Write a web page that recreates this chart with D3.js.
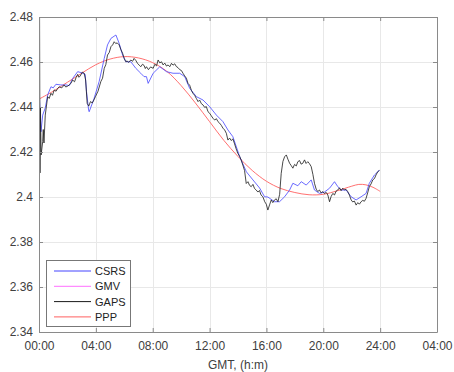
<!DOCTYPE html>
<html>
<head>
<meta charset="utf-8">
<script src="https://cdn.jsdelivr.net/npm/d3@7"></script>
<style>
  body { margin: 0; background: #fff; }
  svg { display: block; font-family: "Liberation Sans", Arial, sans-serif; }
</style>
</head>
<body>
<svg id="chart" width="454" height="372"></svg>
<script>
// [hour, value] pairs
const csrs = [
  [0.03, 2.4446], [0.14, 2.429], [0.26, 2.4364], [0.44, 2.4396], [0.61, 2.4453],
  [0.84, 2.449], [1.0, 2.4485], [1.19, 2.4501], [1.54, 2.4498], [1.9, 2.4498],
  [2.13, 2.4495], [2.37, 2.4527], [2.72, 2.4557], [2.95, 2.4553], [3.25, 2.4545],
  [3.34, 2.447], [3.49, 2.4387], [3.53, 2.4379], [3.88, 2.4439], [4.23, 2.4513],
  [4.59, 2.4616], [4.82, 2.4676], [5.06, 2.4705], [5.41, 2.472], [5.64, 2.4683],
  [5.88, 2.4631], [6.11, 2.4601], [6.46, 2.4601], [6.81, 2.4572], [7.16, 2.455],
  [7.39, 2.4535], [7.56, 2.4535], [7.68, 2.4505], [8.03, 2.455], [8.5, 2.4579],
  [8.97, 2.4557], [9.43, 2.455], [9.9, 2.455], [10.25, 2.4535], [10.6, 2.4483],
  [11.07, 2.4446], [11.54, 2.4431], [12.01, 2.4401], [12.48, 2.4364], [12.94, 2.4335],
  [13.29, 2.4298], [13.64, 2.4268], [14.12, 2.4179], [14.59, 2.4112], [15.05, 2.4076],
  [15.52, 2.404], [15.87, 2.4001], [16.1, 2.4], [16.57, 2.3979], [16.92, 2.3979],
  [17.28, 2.4001], [17.63, 2.4031], [17.86, 2.4061], [18.21, 2.405], [18.45, 2.4068],
  [18.8, 2.4053], [19.15, 2.4076], [19.38, 2.4031], [19.73, 2.4016], [20.08, 2.4022],
  [20.44, 2.4039], [20.79, 2.4068], [21.02, 2.4046], [21.26, 2.4031], [21.61, 2.4031],
  [21.96, 2.4001], [22.31, 2.3987], [22.66, 2.4001], [23.01, 2.4016], [23.24, 2.4061],
  [23.6, 2.4098], [23.83, 2.4112], [23.95, 2.412]
];

const gmv = [];   // hidden under the other traces in the picture

const gaps = [
  [0.04, 2.481], [0.07, 2.4107], [0.1, 2.44], [0.15, 2.4187], [0.26, 2.4246],
  [0.3, 2.43], [0.35, 2.424], [0.44, 2.4364], [0.61, 2.4446], [0.72, 2.4438],
  [0.84, 2.4461], [0.95, 2.4452], [1.07, 2.4476], [1.2, 2.447], [1.31, 2.4482],
  [1.42, 2.449], [1.6, 2.4485], [1.77, 2.4498], [1.88, 2.4489], [2.0, 2.4492],
  [2.13, 2.4498], [2.25, 2.4506], [2.37, 2.452], [2.5, 2.4512], [2.61, 2.4531],
  [2.72, 2.4545], [2.81, 2.4532], [2.9, 2.4538], [3.05, 2.4555], [3.18, 2.455],
  [3.28, 2.452], [3.39, 2.4416], [3.5, 2.4404], [3.62, 2.4424], [3.75, 2.4418],
  [3.87, 2.4432], [3.97, 2.4446], [4.15, 2.447], [4.35, 2.4513], [4.47, 2.4528],
  [4.59, 2.4572], [4.7, 2.4588], [4.82, 2.4631], [4.94, 2.4642], [5.06, 2.4668],
  [5.18, 2.4676], [5.29, 2.469], [5.4, 2.4682], [5.5, 2.4685], [5.64, 2.4676],
  [5.76, 2.4655], [5.88, 2.4639], [6.0, 2.4615], [6.11, 2.4601], [6.2, 2.4605],
  [6.3, 2.4598], [6.46, 2.4609], [6.58, 2.4603], [6.69, 2.4616], [6.81, 2.4607],
  [6.93, 2.4594], [7.05, 2.4586], [7.16, 2.4579], [7.28, 2.459], [7.39, 2.4585],
  [7.48, 2.4571], [7.56, 2.4579], [7.7, 2.4566], [7.85, 2.4578], [8.03, 2.4572],
  [8.15, 2.459], [8.27, 2.4583], [8.38, 2.4609], [8.5, 2.4596], [8.62, 2.4601],
  [8.73, 2.4587], [8.85, 2.4595], [8.97, 2.4582], [9.08, 2.4587], [9.2, 2.4579],
  [9.32, 2.4594], [9.43, 2.4586], [9.55, 2.4592], [9.66, 2.458], [9.78, 2.4575],
  [9.9, 2.4566], [10.02, 2.4562], [10.13, 2.455], [10.25, 2.4538], [10.37, 2.4528],
  [10.48, 2.4505], [10.6, 2.4497], [10.72, 2.4474], [10.83, 2.4461], [10.95, 2.4452],
  [11.07, 2.4438], [11.19, 2.4424], [11.3, 2.4431], [11.42, 2.4415], [11.54, 2.4409],
  [11.66, 2.4398], [11.77, 2.4402], [11.89, 2.4379], [12.01, 2.4372], [12.12, 2.4361],
  [12.24, 2.435], [12.36, 2.4342], [12.48, 2.4348], [12.59, 2.4335], [12.71, 2.4328],
  [12.83, 2.4318], [12.94, 2.4306], [13.06, 2.4298], [13.18, 2.4283], [13.29, 2.4253],
  [13.41, 2.4262], [13.52, 2.4251], [13.64, 2.4258], [13.76, 2.4236], [13.87, 2.4214],
  [13.99, 2.4194], [14.11, 2.4181], [14.22, 2.4165], [14.34, 2.4142], [14.46, 2.4118],
  [14.58, 2.406], [14.7, 2.4068], [14.81, 2.4052], [14.93, 2.4046], [15.05, 2.4056],
  [15.16, 2.4038], [15.28, 2.4031], [15.4, 2.4022], [15.51, 2.4029], [15.62, 2.4009],
  [15.75, 2.4001], [15.88, 2.3979], [15.99, 2.3968], [16.1, 2.3942], [16.22, 2.3965],
  [16.34, 2.3987], [16.45, 2.3975], [16.57, 2.3987], [16.69, 2.3992], [16.81, 2.3979],
  [16.93, 2.4012], [17.04, 2.4105], [17.16, 2.4158], [17.28, 2.4179], [17.4, 2.4187],
  [17.51, 2.4168], [17.63, 2.415], [17.75, 2.4139], [17.86, 2.4128], [17.98, 2.4145],
  [18.1, 2.4138], [18.21, 2.4157], [18.33, 2.4162], [18.44, 2.4146], [18.56, 2.415],
  [18.68, 2.4165], [18.79, 2.4149], [18.91, 2.4157], [19.03, 2.4148], [19.15, 2.4135],
  [19.27, 2.41], [19.38, 2.4061], [19.5, 2.4035], [19.61, 2.4024], [19.73, 2.4031],
  [19.85, 2.4018], [19.97, 2.4024], [20.09, 2.4015], [20.2, 2.4021], [20.32, 2.4009],
  [20.44, 2.3979], [20.55, 2.4002], [20.67, 2.4016], [20.79, 2.4009], [20.9, 2.4026],
  [21.02, 2.4031], [21.14, 2.4041], [21.25, 2.4028], [21.37, 2.4039], [21.49, 2.4031],
  [21.6, 2.4034], [21.72, 2.4024], [21.84, 2.4008], [21.96, 2.3987], [22.07, 2.3978],
  [22.19, 2.3982], [22.31, 2.3964], [22.43, 2.3975], [22.54, 2.3968], [22.66, 2.3979],
  [22.78, 2.3985], [22.89, 2.3981], [23.01, 2.3994], [23.12, 2.4018], [23.24, 2.4046],
  [23.36, 2.4058], [23.48, 2.4076], [23.6, 2.4082], [23.71, 2.4098], [23.83, 2.4112],
  [23.95, 2.4118]
];

const ppp = [
  [0, 2.4435], [1, 2.447], [2, 2.451], [3, 2.455], [4, 2.4588], [5, 2.4613],
  [6, 2.4624], [7, 2.4618], [8, 2.4597], [9, 2.4558], [10, 2.4495], [11, 2.4418],
  [12, 2.4335], [13, 2.4252], [14, 2.418], [15, 2.4118], [16, 2.407], [17, 2.4038],
  [18, 2.402], [19, 2.401], [20, 2.4012], [21, 2.4028], [22, 2.4048], [22.5, 2.4056],
  [23, 2.4054], [23.5, 2.4043], [24, 2.4025]
];

const seriesNames = ['CSRS', 'GMV', 'GAPS', 'PPP'];
const seriesColors = ['#4545ff', '#ff70ff', '#1a1a1a', '#ff6060'];
const xTicks = [0, 4, 8, 12, 16, 20, 24, 28];
const yTicks = [2.34, 2.36, 2.38, 2.40, 2.42, 2.44, 2.46, 2.48];

const width = 454, height = 372;
const margin = { top: 17, right: 17, bottom: 40, left: 39 };
const svg = d3.select('#chart');

const x = d3.scaleLinear().domain([0, 28]).range([margin.left, width - margin.right]);
const y = d3.scaleLinear().domain([2.34, 2.48]).range([height - margin.bottom, margin.top]);

const axisColor = '#8a8a8a';
const textColor = '#404040';

// grid
const grid = svg.append('g').attr('stroke', '#e8e8e8').attr('stroke-width', 1);
grid.selectAll('line.gx').data(xTicks.slice(1, -1)).join('line')
  .attr('x1', d => Math.round(x(d)) + 0.5).attr('x2', d => Math.round(x(d)) + 0.5)
  .attr('y1', y(2.34)).attr('y2', y(2.48));
grid.selectAll('line.gy').data(yTicks.slice(1, -1)).join('line')
  .attr('y1', d => Math.round(y(d)) + 0.5).attr('y2', d => Math.round(y(d)) + 0.5)
  .attr('x1', x(0)).attr('x2', x(28));

// data lines
svg.append('clipPath').attr('id', 'clip').append('rect')
  .attr('x', x(0)).attr('y', y(2.48)).attr('width', x(28) - x(0)).attr('height', y(2.34) - y(2.48));

const line = d3.line().x(d => x(d[0])).y(d => y(d[1]));
const smooth = d3.line().x(d => x(d[0])).y(d => y(d[1])).curve(d3.curveCatmullRom);

const plot = svg.append('g').attr('clip-path', 'url(#clip)').attr('fill', 'none');
plot.append('path').datum(ppp).attr('d', smooth).attr('stroke', seriesColors[3]).attr('stroke-width', 0.9);
plot.append('path').datum(gmv).attr('d', line).attr('stroke', seriesColors[1]).attr('stroke-width', 0.8);
plot.append('path').datum(csrs).attr('d', line).attr('stroke', seriesColors[0]).attr('stroke-width', 0.8);
plot.append('path').datum(gaps).attr('d', line).attr('stroke', seriesColors[2]).attr('stroke-width', 0.8);

// axes
const fmtY = d => String(+d.toFixed(2));
const fmtX = d => String(d % 24 === 0 && d > 0 && d < 28 ? 24 : d % 24).padStart(2, '0') + ':00';

const xAxis = svg.append('g').attr('transform', `translate(0,${y(2.34)})`)
  .call(d3.axisBottom(x).tickValues(xTicks).tickFormat(fmtX).tickSizeInner(-4).tickSizeOuter(0).tickPadding(9));
const yAxis = svg.append('g').attr('transform', `translate(${x(0)},0)`)
  .call(d3.axisLeft(y).tickValues(yTicks).tickFormat(fmtY).tickSizeInner(-4).tickSizeOuter(0).tickPadding(6));
const xTop = svg.append('g').attr('transform', `translate(0,${y(2.48)})`)
  .call(d3.axisTop(x).tickValues(xTicks).tickFormat('').tickSizeInner(-4).tickSizeOuter(0));
const yRight = svg.append('g').attr('transform', `translate(${x(28)},0)`)
  .call(d3.axisRight(y).tickValues(yTicks).tickFormat('').tickSizeInner(-4).tickSizeOuter(0));

[xAxis, yAxis, xTop, yRight].forEach(a => {
  a.select('.domain').attr('stroke', axisColor);
  a.selectAll('.tick line').attr('stroke', axisColor);
  a.selectAll('.tick text').attr('fill', textColor).attr('font-size', 12)
    .attr('font-family', '"Liberation Sans", Arial, sans-serif');
});

svg.append('text')
  .attr('x', (x(0) + x(28)) / 2).attr('y', 369)
  .attr('text-anchor', 'middle').attr('fill', textColor).attr('font-size', 12)
  .text('GMT, (h:m)');

// legend
const legend = svg.append('g');
legend.append('rect')
  .attr('x', 46.5).attr('y', 260.5).attr('width', 84).attr('height', 66)
  .attr('fill', '#fff').attr('stroke', '#777').attr('stroke-width', 1);
const item = legend.selectAll('g.item').data(seriesNames).join('g')
  .attr('transform', (d, i) => `translate(0,${271 + i * 15.3})`);
item.append('line').attr('x1', 54).attr('x2', 91)
  .attr('stroke', (d, i) => seriesColors[i]).attr('stroke-width', 1);
item.append('text').attr('x', 95).attr('y', 4).attr('font-size', 11).attr('fill', '#222')
  .text(d => d);
</script>
</body>
</html>
